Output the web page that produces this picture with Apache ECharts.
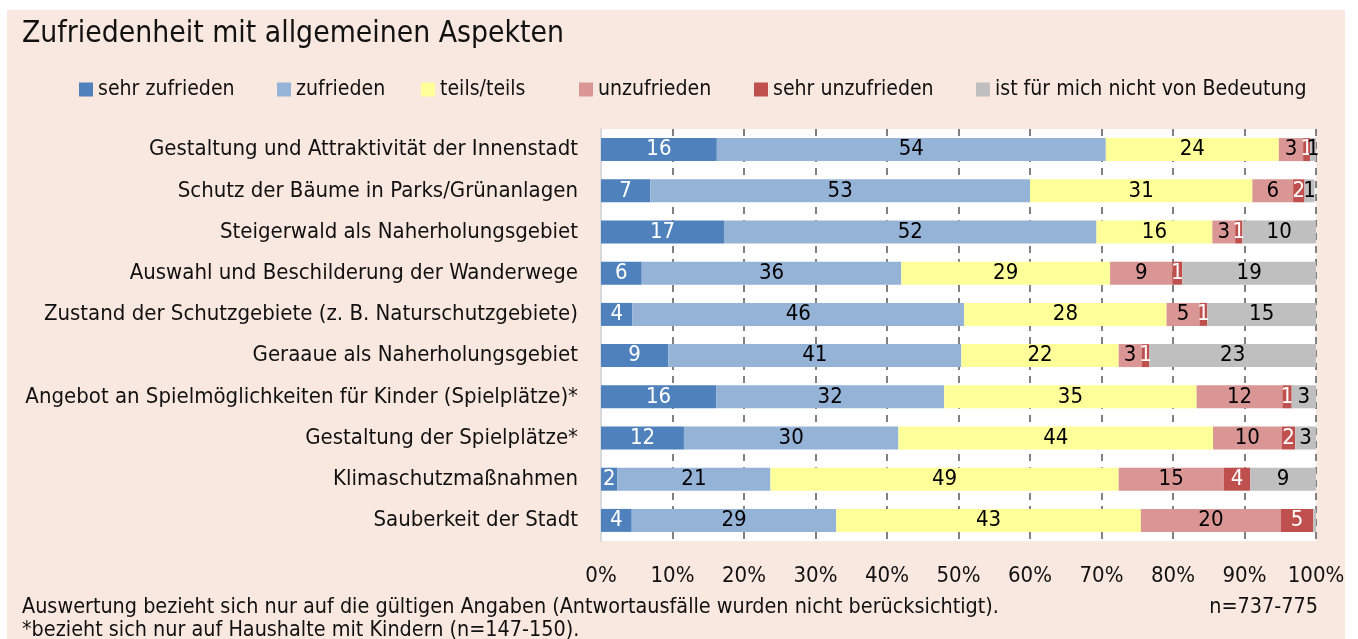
<!DOCTYPE html>
<html>
<head>
<meta charset="utf-8">
<script src="https://cdn.jsdelivr.net/npm/echarts@6/dist/echarts.min.js"></script>
<style>
  html, body { margin: 0; padding: 0; background: #fff; }
  #chart { width: 1358px; height: 639px; }
</style>
</head>
<body>
<div id="chart"></div>
<script>
const FONT = '"DejaVu Sans Condensed", "Liberation Sans Narrow", sans-serif';

const categories = [
  'Gestaltung und Attraktivität der Innenstadt',
  'Schutz der Bäume in Parks/Grünanlagen',
  'Steigerwald als Naherholungsgebiet',
  'Auswahl und Beschilderung der Wanderwege',
  'Zustand der Schutzgebiete (z. B. Naturschutzgebiete)',
  'Geraaue als Naherholungsgebiet',
  'Angebot an Spielmöglichkeiten für Kinder (Spielplätze)*',
  'Gestaltung der Spielplätze*',
  'Klimaschutzmaßnahmen',
  'Sauberkeit der Stadt'
];
const seriesNames = ['sehr zufrieden', 'zufrieden', 'teils/teils', 'unzufrieden', 'sehr unzufrieden', 'ist für mich nicht von Bedeutung'];
const colors = ['#4F81BD', '#95B3D7', '#FFFF99', '#DA9694', '#C0504D', '#BFBFBF'];
const labelColors = ['#fff', '#000', '#000', '#000', '#fff', '#000'];

// Anteile in Prozent (aus den Balkenlängen geschätzt), Reihen von oben nach unten
const sehrZufrieden = [16.2, 6.9, 17.2, 5.7, 4.4, 9.4, 16.1, 11.6, 2.3, 4.3];
const zufrieden = [54.4, 53.1, 52.1, 36.3, 46.4, 41.0, 31.9, 30.0, 21.4, 28.6];
const teils = [24.2, 31.1, 16.2, 29.2, 28.3, 22.0, 35.3, 44.0, 48.7, 42.6];
const unzufrieden = [3.4, 5.7, 3.2, 8.7, 4.6, 3.2, 12.0, 9.6, 14.7, 19.6];
const sehrUnzufrieden = [1.0, 1.6, 1.0, 1.4, 1.1, 1.1, 1.3, 1.9, 3.7, 4.5];
const keineBedeutung = [0.8, 1.4, 10.3, 18.7, 15.2, 23.3, 3.4, 2.9, 9.2, 0.4];
const values = [sehrZufrieden, zufrieden, teils, unzufrieden, sehrUnzufrieden, keineBedeutung];

const xTicks = [0, 10, 20, 30, 40, 50, 60, 70, 80, 90, 100];
const legendX = [74, 272, 416, 574, 749, 971];

const chart = echarts.init(document.getElementById('chart'));

chart.setOption({
  animation: false,
  textStyle: { fontFamily: FONT },
  graphic: [
    {
      type: 'rect', z: -10, silent: true,
      shape: { x: 7, y: 10, width: 1338, height: 640 },
      style: { fill: '#F9E8E0' }
    },
    {
      type: 'text', left: 22, top: 19,
      style: { text: 'Zufriedenheit mit allgemeinen Aspekten', fontSize: 29.8, fontFamily: FONT, fill: '#111' }
    },
    {
      type: 'text', left: 22, top: 597,
      style: { text: 'Auswertung bezieht sich nur auf die gültigen Angaben (Antwortausfälle wurden nicht berücksichtigt).', fontSize: 21.4, fontFamily: FONT, fill: '#111' }
    },
    {
      type: 'text', right: 40, top: 597,
      style: { text: 'n=737-775', fontSize: 21.4, fontFamily: FONT, fill: '#111' }
    },
    {
      type: 'text', left: 22, top: 620,
      style: { text: '*bezieht sich nur auf Haushalte mit Kindern (n=147-150).', fontSize: 21.4, fontFamily: FONT, fill: '#111' }
    }
  ],
  legend: seriesNames.map((name, i) => ({
    data: [name],
    left: legendX[i],
    top: 74,
    icon: 'rect',
    itemWidth: 14,
    itemHeight: 14,
    itemGap: 5,
    textStyle: { fontSize: 21.1, color: '#111', fontFamily: FONT, padding: [0, 0, 0, 0] }
  })),
  grid: {
    left: 601, right: 42, top: 129, bottom: 98,
    show: true, backgroundColor: '#fff', borderWidth: 0
  },
  xAxis: {
    type: 'value',
    min: 0, max: 100, interval: 10,
    axisLine: { show: false },
    axisTick: { show: false },
    axisLabel: {
      fontSize: 22, color: '#111', margin: 24,
      formatter: v => xTicks.includes(v) ? v + '%' : ''
    },
    splitLine: { show: true, lineStyle: { color: '#808080', width: 2, type: [7, 6] } }
  },
  yAxis: {
    type: 'category',
    data: categories,
    inverse: true,
    axisLine: { show: true, lineStyle: { color: '#D9D9D9', width: 2 } },
    axisTick: { show: false },
    axisLabel: { fontSize: 22, color: '#111', margin: 23 }
  },
  series: seriesNames.map((name, i) => ({
    name: name,
    type: 'bar',
    stack: 'total',
    barWidth: 23,
    itemStyle: { color: colors[i] },
    label: {
      show: true,
      position: 'inside',
      fontSize: 22,
      color: labelColors[i],
      fontFamily: FONT,
      formatter: p => Math.round(p.value) > 0 ? String(Math.round(p.value)) : ''
    },
    data: values[i]
  }))
});
</script>
</body>
</html>
